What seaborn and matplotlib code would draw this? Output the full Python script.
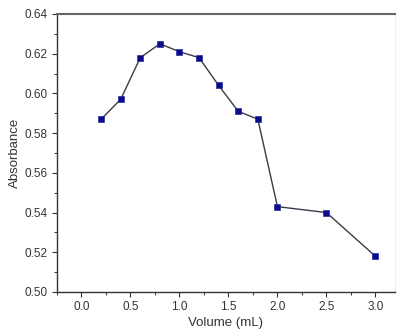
import matplotlib
matplotlib.use("Agg")
import matplotlib.pyplot as plt
import seaborn as sns
import pandas as pd
from matplotlib.ticker import MultipleLocator

volume = [0.2, 0.4, 0.6, 0.8, 1.0, 1.2, 1.4, 1.6, 1.8, 2.0, 2.5, 3.0]
absorbance = [0.587, 0.597, 0.618, 0.625, 0.621, 0.618, 0.604, 0.591, 0.587, 0.543, 0.540, 0.518]
x_ticks = [0.0, 0.5, 1.0, 1.5, 2.0, 2.5, 3.0]
y_ticks = [0.50, 0.52, 0.54, 0.56, 0.58, 0.60, 0.62, 0.64]

df = pd.DataFrame({"Volume (mL)": volume, "Absorbance": absorbance})

sns.set_style("ticks")
plt.rcParams['font.family'] = ['Liberation Sans', 'DejaVu Sans']

fig = plt.figure(figsize=(3.99, 3.33), dpi=100)
ax = fig.add_axes([57/399, 41/333, (395-57)/399, (292-14)/333])

sns.lineplot(data=df, x="Volume (mL)", y="Absorbance", ax=ax, color="#3a3a4a",
             linewidth=1.0, marker="s", markersize=4.5, markerfacecolor="#0a0a8a",
             markeredgecolor="#2030a0", markeredgewidth=0.5)

ax.set_xlim(-0.25, 3.2)
ax.set_ylim(0.50, 0.64)
ax.set_xticks(x_ticks)
ax.set_xticklabels([f"{v:.1f}" for v in x_ticks])
ax.set_yticks(y_ticks)
ax.set_yticklabels([f"{v:.2f}" for v in y_ticks])
ax.xaxis.set_minor_locator(MultipleLocator(0.25))
ax.yaxis.set_minor_locator(MultipleLocator(0.01))
ax.tick_params(axis="both", which="major", direction="out", length=3.5, width=0.8,
               labelsize=8.5, colors="#333333", labelcolor="#333333", pad=3)
ax.tick_params(axis="both", which="minor", direction="out", length=2, width=0.7, colors="#333333")

for s in ["left", "bottom"]:
    ax.spines[s].set_color("#333333")
    ax.spines[s].set_linewidth(1.0)
ax.spines["top"].set_visible(True)
ax.spines["top"].set_color("#666666")
ax.spines["top"].set_linewidth(1.5)
ax.spines["right"].set_visible(True)
ax.spines["right"].set_color("#eeeeee")
ax.spines["right"].set_linewidth(0.8)

ax.set_xlabel("Volume (mL)", fontsize=9.5, color="#333333", labelpad=3)
ax.set_ylabel("Absorbance", fontsize=9.5, color="#333333", labelpad=3)

fig.savefig("out.png", dpi=100)
